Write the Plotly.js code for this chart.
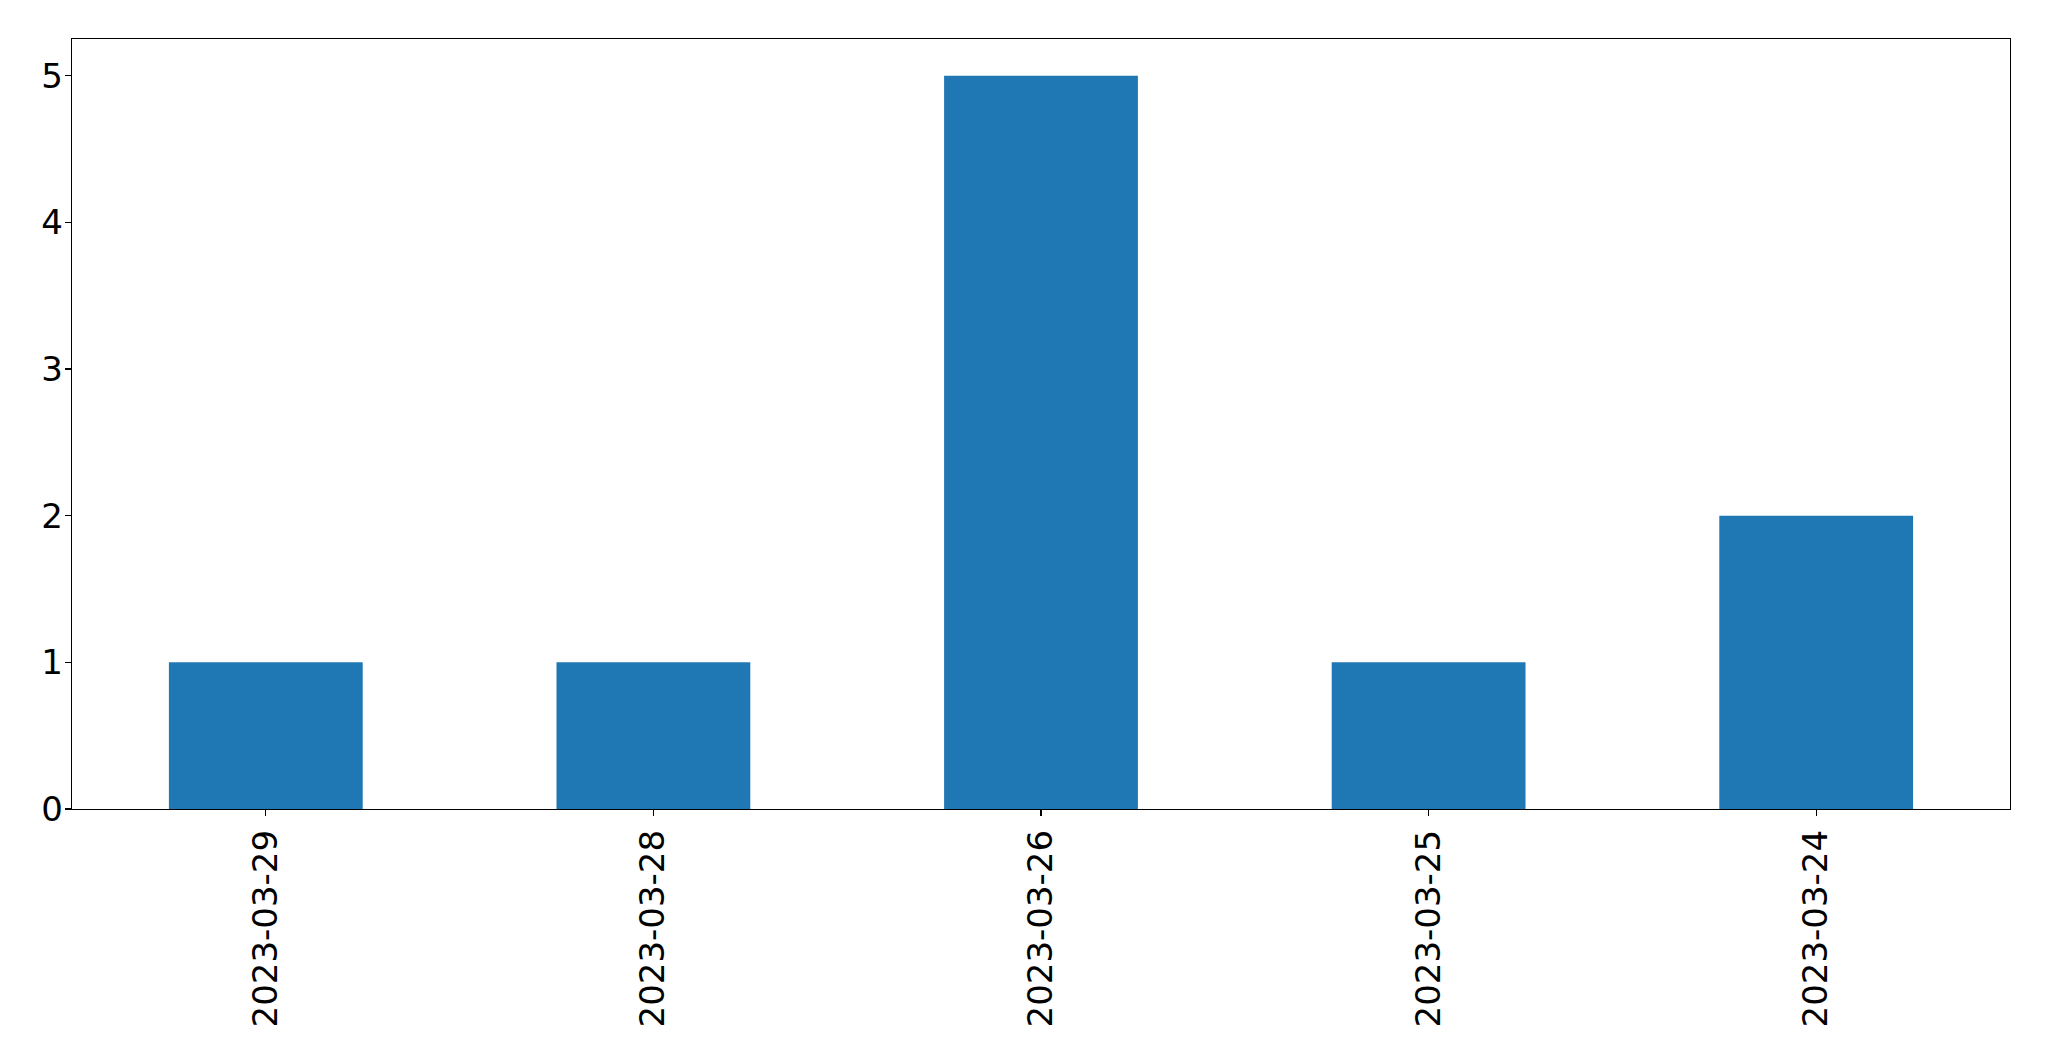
<!DOCTYPE html>
<html>
<head>
<meta charset="utf-8">
<script src="https://cdn.plot.ly/plotly-3.0.1.min.js"></script>
<style>
  html, body { margin: 0; padding: 0; background: #fff; }
  #chart { width: 2049px; height: 1061px; }
</style>
</head>
<body>
<div id="chart"></div>
<script>
// counts per day, in the order shown
const days = ['2023-03-29', '2023-03-28', '2023-03-26', '2023-03-25', '2023-03-24'];
const counts = [1, 1, 5, 1, 2];
const yTicks = [0, 1, 2, 3, 4, 5];

var trace = {
    x: days,
    y: counts,
    type: 'bar',
    width: 0.5,
    marker: { color: '#1f77b4' },
    hoverinfo: 'x+y'
};

var axisFont = { family: 'DejaVu Sans, sans-serif', size: 34, color: '#000' };

var layout = {
    width: 2049,
    height: 1061,
    showlegend: false,
    paper_bgcolor: '#fff',
    plot_bgcolor: '#fff',
    margin: { l: 72, r: 39, t: 39, b: 252, pad: 0 },
    bargap: 0.5,
    xaxis: {
        type: 'category',
        range: [-0.5, 4.5],
        tickangle: -90,
        tickfont: axisFont,
        ticks: 'outside',
        ticklen: 6,
        tickwidth: 1.3,
        tickcolor: '#000',
        showline: true,
        linecolor: '#000',
        linewidth: 1.3,
        mirror: true,
        showgrid: false,
        zeroline: false
    },
    yaxis: {
        range: [0, 5.25],
        tickvals: yTicks,
        ticktext: yTicks.map(String),
        tickfont: axisFont,
        ticks: 'outside',
        ticklen: 6,
        tickwidth: 1.3,
        tickcolor: '#000',
        ticklabelstandoff: -5,
        showline: true,
        linecolor: '#000',
        linewidth: 1.3,
        mirror: true,
        showgrid: false,
        zeroline: false
    }
};

Plotly.newPlot('chart', [trace], layout, { displayModeBar: false, staticPlot: true });
</script>
</body>
</html>
